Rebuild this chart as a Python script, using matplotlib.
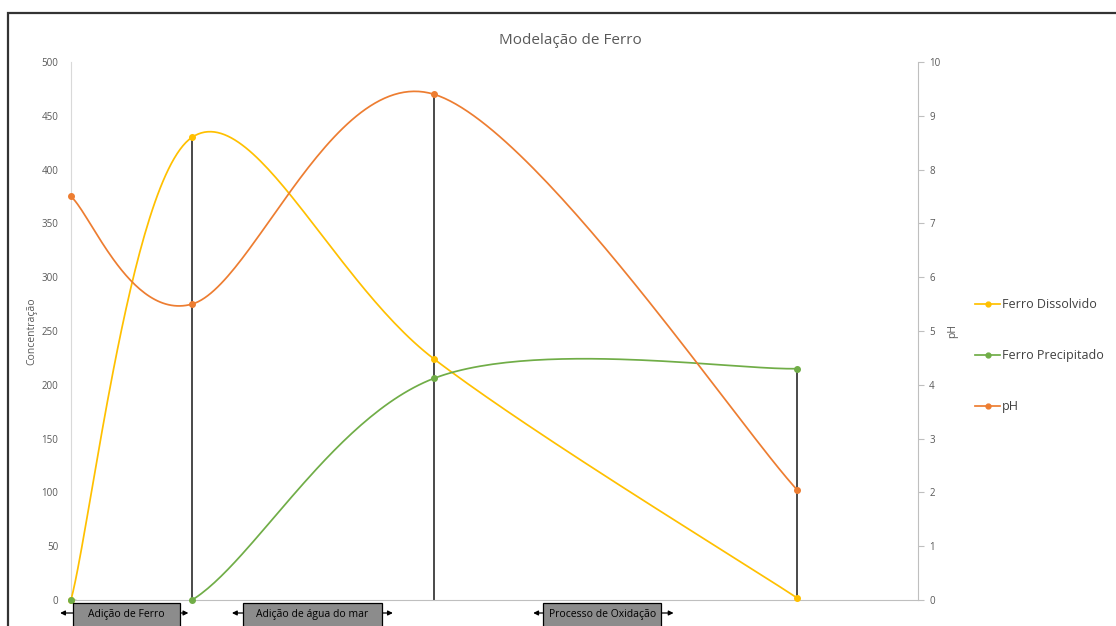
import numpy as np
import matplotlib
matplotlib.use("Agg")
import matplotlib.pyplot as plt
from matplotlib.patches import Rectangle
from matplotlib.lines import Line2D
import matplotlib.transforms as mtransforms

plt.rcParams['font.family'] = ['Open Sans', 'DejaVu Sans']

# sampling steps (x) and measured values
etapas = [0, 1, 3, 6]
ferro_dissolvido = [0, 430, 224, 2]
ferro_precipitado = [0, 0, 206, 215]
ph = [7.5, 5.5, 9.4, 2.05]

serie_nomes = ['Ferro Dissolvido', 'Ferro Precipitado', 'pH']
serie_cores = ['#FFC000', '#70AD47', '#ED7D31']

# x positions that get a drop line, and the process phases under the axis
drop_idx = [1, 2, 3]
fases = ['Adição de Ferro', 'Adição de água do mar', 'Processo de Oxidação']
fase_caixa = [(0.017, 0.90), (1.42, 2.57), (3.90, 4.88)]
fase_seta = [(-0.09, 0.97), (1.33, 2.66), (3.82, 4.98)]


def excel_smooth(x, y, n=60):
    """Bezier smoothing similar to the spreadsheet 'smoothed line' option."""
    x = np.asarray(x, float)
    y = np.asarray(y, float)
    pts = np.column_stack([x, y])
    m = len(pts)
    out = []
    t = np.linspace(0, 1, n)[:, None]
    for i in range(m - 1):
        p0 = pts[i]
        p3 = pts[i + 1]
        prev = pts[i - 1] if i > 0 else pts[i]
        nxt = pts[i + 2] if i + 2 < m else pts[i + 1]
        c1 = p0 + (p3 - prev) / 6.0
        c2 = p3 - (nxt - p0) / 6.0
        seg = ((1 - t) ** 3) * p0 + 3 * ((1 - t) ** 2) * t * c1 \
            + 3 * (1 - t) * t ** 2 * c2 + t ** 3 * p3
        out.append(seg if i == 0 else seg[1:])
    out = np.vstack(out)
    return out[:, 0], out[:, 1]


fig = plt.figure(figsize=(11.16, 6.26), dpi=100)
ax = fig.add_axes([71 / 1116, 1 - 600 / 626, 847 / 1116, 538 / 626])
ax2 = ax.twinx()

ax.set_xlim(0, 7)
ax.set_ylim(0, 500)
ax2.set_ylim(0, 10)
ax.set_yticks(np.arange(0, 501, 50))
ax2.set_yticks(np.arange(0, 11, 1))
ax.set_xticks([])

grey = '#595959'
for a in (ax, ax2):
    for s in a.spines.values():
        s.set_visible(False)
ax.spines['left'].set_visible(True)
ax.spines['left'].set_color('#D9D9D9')
ax.spines['bottom'].set_visible(True)
ax.spines['bottom'].set_color('#BFBFBF')
ax2.spines['right'].set_visible(True)
ax2.spines['right'].set_color('#BFBFBF')

ax.tick_params(axis='y', length=0, pad=9, labelsize=7, labelcolor=grey)
ax2.tick_params(axis='y', length=4, width=0.8, color='#BFBFBF', pad=4,
                labelsize=7, labelcolor=grey)

ax.set_ylabel('Concentração', fontsize=7.5, color=grey)
ax.yaxis.set_label_coords(-0.040, 0.5)
ax2.set_ylabel('pH', fontsize=7.5, color=grey)
ax2.yaxis.set_label_coords(1.034, 0.5)

# drop lines from the highest point at each marked step
ph_esq = [v * 50 for v in ph]
for i in drop_idx:
    topo = max(ferro_dissolvido[i], ferro_precipitado[i], ph_esq[i])
    ax.vlines(etapas[i], 0, topo, color='#3a3a3a', lw=1.3, zorder=2)

dados = [(ax, ferro_dissolvido), (ax, ferro_precipitado), (ax2, ph)]
for (a, vals), cor in zip(dados, serie_cores):
    sx, sy = excel_smooth(etapas, vals)
    a.plot(sx, sy, color=cor, lw=1.25, zorder=3)
    a.plot(etapas, vals, 'o', color=cor, ms=4, zorder=4, clip_on=False)

handles = [Line2D([0], [0], color=c, lw=1.25, marker='o', ms=3.5)
           for c in serie_cores]
fig.legend(handles, serie_nomes, loc='upper left',
           bbox_to_anchor=(975 / 1116, 1 - 298 / 626), frameon=False,
           fontsize=9, handlelength=2.0, handletextpad=0.15,
           labelspacing=3.05, borderpad=0, borderaxespad=0,
           labelcolor='#404040')

fig.text(570 / 1116, 1 - 40 / 626, 'Modelação de Ferro', ha='center',
         va='center', fontsize=11, color=grey)

# phase labels below the axis
trans = mtransforms.blended_transform_factory(ax.transData, ax.transAxes)
y_seta = (600 - 613) / 538
y_cx0 = (600 - 627) / 538
y_cx1 = (600 - 603) / 538
for nome, (c0, c1), (s0, s1) in zip(fases, fase_caixa, fase_seta):
    ax.annotate('', xy=(s0, y_seta), xytext=(s1, y_seta), xycoords=trans,
                textcoords=trans,
                arrowprops=dict(arrowstyle='<|-|>', color='black', lw=0.9,
                                mutation_scale=7, shrinkA=0, shrinkB=0),
                annotation_clip=False, zorder=5)
    ax.add_patch(Rectangle((c0, y_cx0), c1 - c0, y_cx1 - y_cx0,
                           transform=trans, facecolor='#8C8C8C',
                           edgecolor='black', lw=0.9, clip_on=False,
                           zorder=6))
    ax.text((c0 + c1) / 2, (y_cx0 + y_cx1) / 2, nome, transform=trans,
            ha='center', va='center', fontsize=7.5, color='black',
            zorder=7)

# outer chart frame
fig.patches.append(Rectangle((8 / 1116, -0.2), 1.5, 1 - 13 / 626 + 0.2,
                             transform=fig.transFigure, fill=False,
                             edgecolor='#333333', lw=1.6))

fig.savefig('out.png', dpi=100)
